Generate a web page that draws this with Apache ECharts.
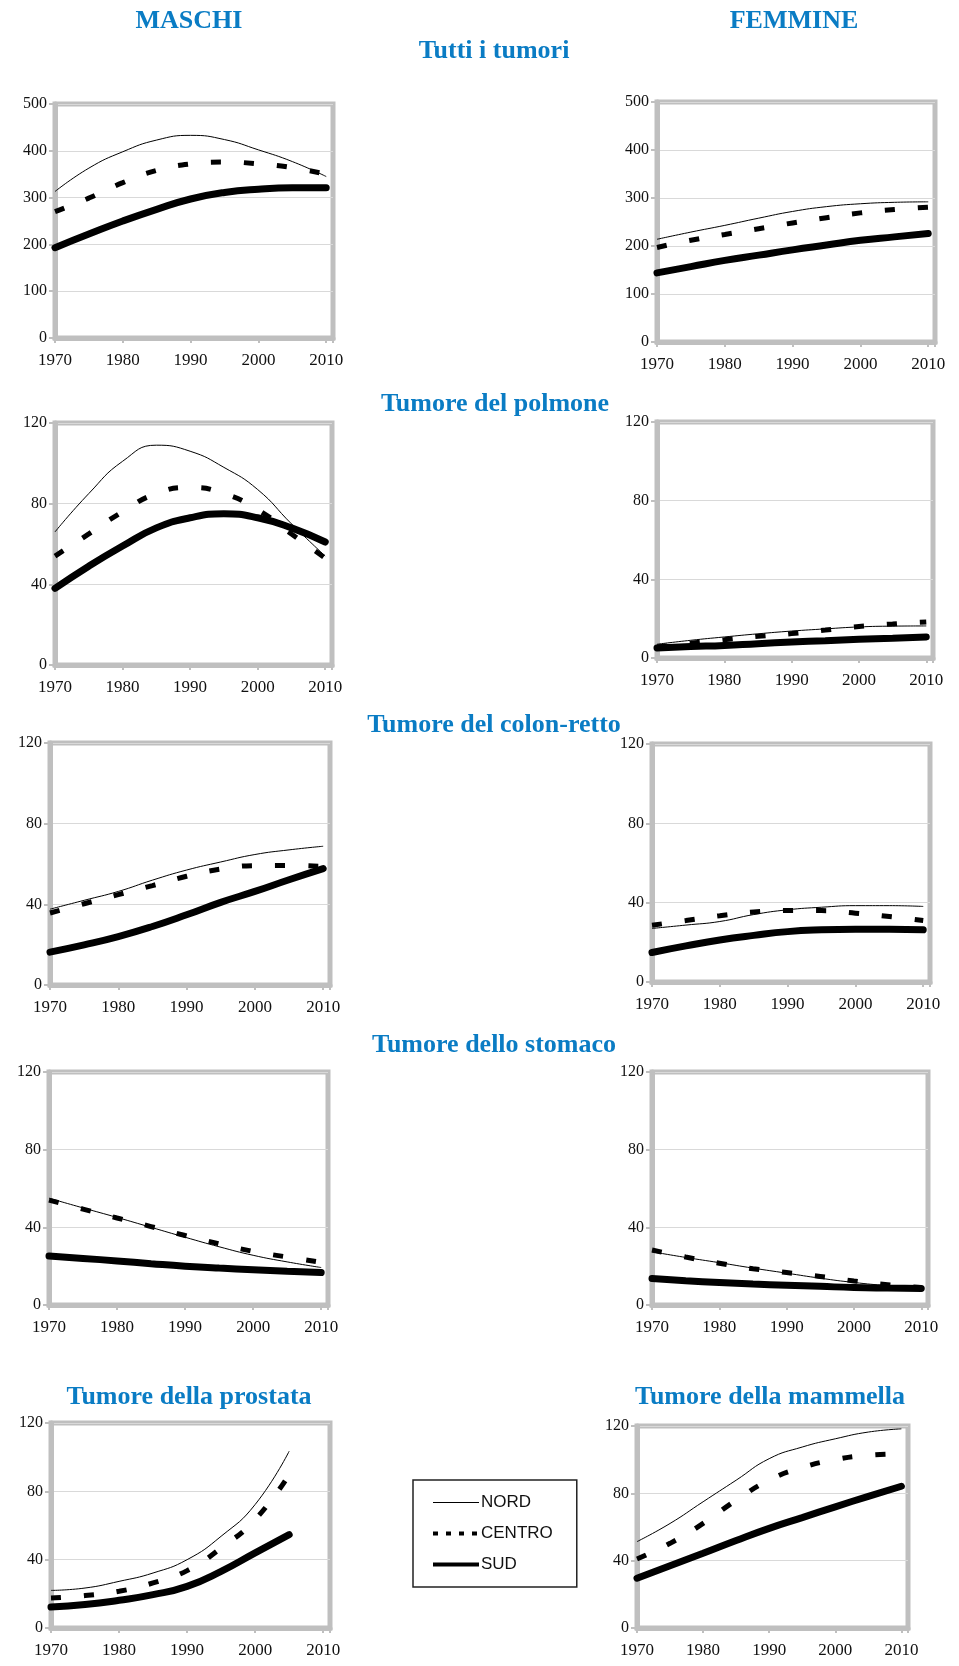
<!DOCTYPE html>
<html>
<head>
  <meta charset="utf-8">
  <title>Mortalità per tumore - Nord, Centro, Sud</title>
  <script src="https://fastly.jsdelivr.net/npm/echarts@6/dist/echarts.min.js"></script>
</head>
<body style="margin:0;background:#fff;">
<div id="chart-container" style="width:959px;height:1666px;"></div>
<script type="text/javascript">
  // anni (asse x)
  var years = [1970, 1975, 1980, 1985, 1990, 1995, 2000, 2005, 2010];
  var yearsProstata = [1970, 1975, 1980, 1985, 1990, 1995, 2000, 2005];

  // Tutti i tumori
  var tuttiM_nord = [313, 363, 398, 423, 433, 424, 402, 377, 345];
  var tuttiM_centro = [270, 299, 332, 358, 372, 376, 372, 364, 350];
  var tuttiM_sud = [193, 222, 250, 275, 297, 311, 318, 321, 321];
  var tuttiF_nord = [214, 229, 243, 258, 272, 282, 288, 291, 292];
  var tuttiF_centro = [197, 212, 224, 236, 248, 259, 269, 276, 281];
  var tuttiF_sud = [144, 157, 170, 181, 192, 202, 212, 219, 226];

  // Tumore del polmone
  var polmM_nord = [66, 85, 101, 109, 106, 98, 87, 70, 54];
  var polmM_centro = [54, 65, 76, 85, 88, 85, 77, 65, 53];
  var polmM_sud = [38, 49, 59, 68, 73, 75, 73, 68, 61];
  var polmF_nord = [7, 9, 10.7, 12.3, 13.7, 14.8, 15.8, 16.2, 16.3];
  var polmF_centro = [5.6, 7.5, 9.3, 11, 12.4, 14.2, 16, 17.3, 18.3];
  var polmF_sud = [5.1, 5.8, 6.4, 7.3, 8.1, 8.8, 9.5, 10.1, 10.7];

  // Tumore del colon-retto
  var colonM_nord = [37.6, 42, 46.4, 52, 57, 61, 64.7, 67, 68.8];
  var colonM_centro = [35.7, 40.3, 44.8, 49.3, 53.9, 57.5, 59.2, 59.3, 58.8];
  var colonM_sud = [16.3, 19.9, 24, 29, 34.8, 41, 46.4, 52.2, 57.7];
  var colonF_nord = [27, 28.7, 30.5, 34, 36.4, 37.7, 38.5, 38.5, 38.1];
  var colonF_centro = [28.6, 31, 33.4, 35.3, 36, 36, 34.7, 33, 31];
  var colonF_sud = [14.9, 18.2, 21.2, 23.5, 25.4, 26.3, 26.6, 26.6, 26.3];

  // Tumore dello stomaco
  var stomM_nord = [55, 50, 45.1, 40, 34.9, 30, 25.6, 22.2, 19.3];
  var stomM_centro = [54, 49.4, 44.8, 40.4, 35.8, 31.5, 27.6, 24.7, 22];
  var stomM_sud = [25.2, 24, 22.7, 21.3, 20, 19, 18.2, 17.4, 16.7];
  var stomF_nord = [27.4, 24.5, 21.8, 19, 16.4, 13.8, 11.6, 10, 9];
  var stomF_centro = [28.3, 24.7, 21.5, 18.7, 16.7, 14.7, 12.4, 10.4, 9];
  var stomF_sud = [13.6, 12.5, 11.6, 10.8, 10.2, 9.6, 9, 8.7, 8.5];

  // Tumore della prostata / della mammella
  var prostata_nord = [22, 23.4, 27.3, 32.2, 40, 53.7, 72.3, 103.5];
  var prostata_centro = [17.6, 19, 21.5, 26.4, 33.6, 46.9, 63.5, 89.8];
  var prostata_sud = [12.3, 13.7, 16.2, 19.5, 24.4, 33.2, 44, 54.7];
  var mamm_nord = [51.3, 62.1, 75, 87.8, 100.6, 107.5, 112.4, 116.4, 118.3];
  var mamm_centro = [41, 50.3, 62.1, 75.9, 87.8, 95.3, 100, 102.6, 103.4];
  var mamm_sud = [29.6, 37, 44.4, 52, 59.2, 65.6, 72, 78.2, 84.2];

  var dom = document.getElementById('chart-container');
  var myChart = echarts.init(dom, null, { renderer: 'canvas' });

  var blue = '#0a7cc4';
  var frame = '#bfbfbf';
  var serif = '"Liberation Serif", "Times New Roman", serif';

  // pannelli: [left, top, right, bottom, yMax, yInterval, anni, nord, centro, sud]
  var panels = [
    [55, 104, 333, 338, 500, 100, years, tuttiM_nord, tuttiM_centro, tuttiM_sud],
    [657, 102, 935, 342, 500, 100, years, tuttiF_nord, tuttiF_centro, tuttiF_sud],
    [55, 423, 332, 665, 120, 40, years, polmM_nord, polmM_centro, polmM_sud],
    [657, 422, 933, 658, 120, 40, years, polmF_nord, polmF_centro, polmF_sud],
    [50, 743, 330, 985, 120, 40, years, colonM_nord, colonM_centro, colonM_sud],
    [652, 744, 930, 982, 120, 40, years, colonF_nord, colonF_centro, colonF_sud],
    [49, 1072, 328, 1305, 120, 40, years, stomM_nord, stomM_centro, stomM_sud],
    [652, 1072, 928, 1305, 120, 40, years, stomF_nord, stomF_centro, stomF_sud],
    [51, 1423, 330, 1628, 120, 40, yearsProstata, prostata_nord, prostata_centro, prostata_sud],
    [637, 1426, 908, 1628, 120, 40, years, mamm_nord, mamm_centro, mamm_sud]
  ];

  function pairs(xs, ys) {
    return ys.map(function (v, i) { return [xs[i], v]; });
  }

  var grids = [], xAxes = [], yAxes = [], series = [];
  panels.forEach(function (p, i) {
    grids.push({
      left: p[0], top: p[1], width: p[2] - p[0], height: p[3] - p[1],
      show: true, borderColor: frame, borderWidth: 5, backgroundColor: '#fff'
    });
    xAxes.push({
      type: 'value', gridIndex: i, min: 1970, max: 2011, interval: 10,
      axisLine: { show: true, onZero: false, lineStyle: { color: frame, width: 5 } },
      axisTick: { show: true, length: 5, lineStyle: { color: frame, width: 2 } },
      axisLabel: {
        color: '#111', fontFamily: serif, fontSize: 17, margin: 14,
        formatter: function (v) { return v % 10 === 0 ? String(v) : ''; }
      },
      splitLine: { show: false }
    });
    yAxes.push({
      type: 'value', gridIndex: i, min: 0, max: p[4], interval: p[5],
      axisLine: { show: true, lineStyle: { color: frame, width: 5 } },
      axisTick: { show: true, length: 6, lineStyle: { color: frame, width: 2 } },
      axisLabel: { color: '#111', fontFamily: serif, fontSize: 16, margin: 8 },
      splitLine: { show: true, lineStyle: { color: '#d9d9d9', width: 1 } }
    });
    series.push({
      name: 'SUD', type: 'line', xAxisIndex: i, yAxisIndex: i,
      smooth: true, symbol: 'none', data: pairs(p[6], p[9]),
      lineStyle: { color: '#000', width: 7, cap: 'round' }, itemStyle: { color: '#000' }
    });
    series.push({
      name: 'CENTRO', type: 'line', xAxisIndex: i, yAxisIndex: i,
      smooth: true, symbol: 'none', data: pairs(p[6], p[8]),
      lineStyle: { color: '#000', width: 5, type: [10, 23] }, itemStyle: { color: '#000' }
    });
    series.push({
      name: 'NORD', type: 'line', xAxisIndex: i, yAxisIndex: i,
      smooth: true, symbol: 'none', data: pairs(p[6], p[7]),
      lineStyle: { color: '#000', width: 1 }, itemStyle: { color: '#000' }
    });
  });

  function heading(text, x, y) {
    return {
      text: text, left: x, top: y, padding: 0,
      textAlign: 'center', textVerticalAlign: 'middle',
      textStyle: { color: blue, fontFamily: serif, fontWeight: 'bold', fontSize: 26 }
    };
  }

  option = {
    backgroundColor: '#fff',
    animation: false,
    title: [
      heading('MASCHI', 189, 21),
      heading('FEMMINE', 794, 21),
      heading('Tutti i tumori', 494, 51),
      heading('Tumore del polmone', 495, 404),
      heading('Tumore del colon-retto', 494, 725),
      heading('Tumore dello stomaco', 494, 1045),
      heading('Tumore della prostata', 189, 1397),
      heading('Tumore della mammella', 770, 1397)
    ],
    legend: {
      data: [
        { name: 'NORD', lineStyle: { width: 1 } },
        { name: 'CENTRO', lineStyle: { width: 4, type: [5, 8] } },
        { name: 'SUD', lineStyle: { width: 4, cap: 'butt' } }
      ],
      orient: 'vertical', left: 413, top: 1480,
      padding: [14, 24, 14, 18], itemGap: 14,
      itemWidth: 46, itemHeight: 18,
      borderColor: '#222', borderWidth: 1.5, backgroundColor: '#fff',
      selectedMode: false,
      itemStyle: { opacity: 0 },
      textStyle: { color: '#111', fontFamily: '"Liberation Sans", Arial, sans-serif', fontSize: 17, padding: [0, 0, 0, -3] }
    },
    grid: grids,
    xAxis: xAxes,
    yAxis: yAxes,
    series: series
  };

  myChart.setOption(option);
  window.addEventListener('resize', myChart.resize);
</script>
</body>
</html>
